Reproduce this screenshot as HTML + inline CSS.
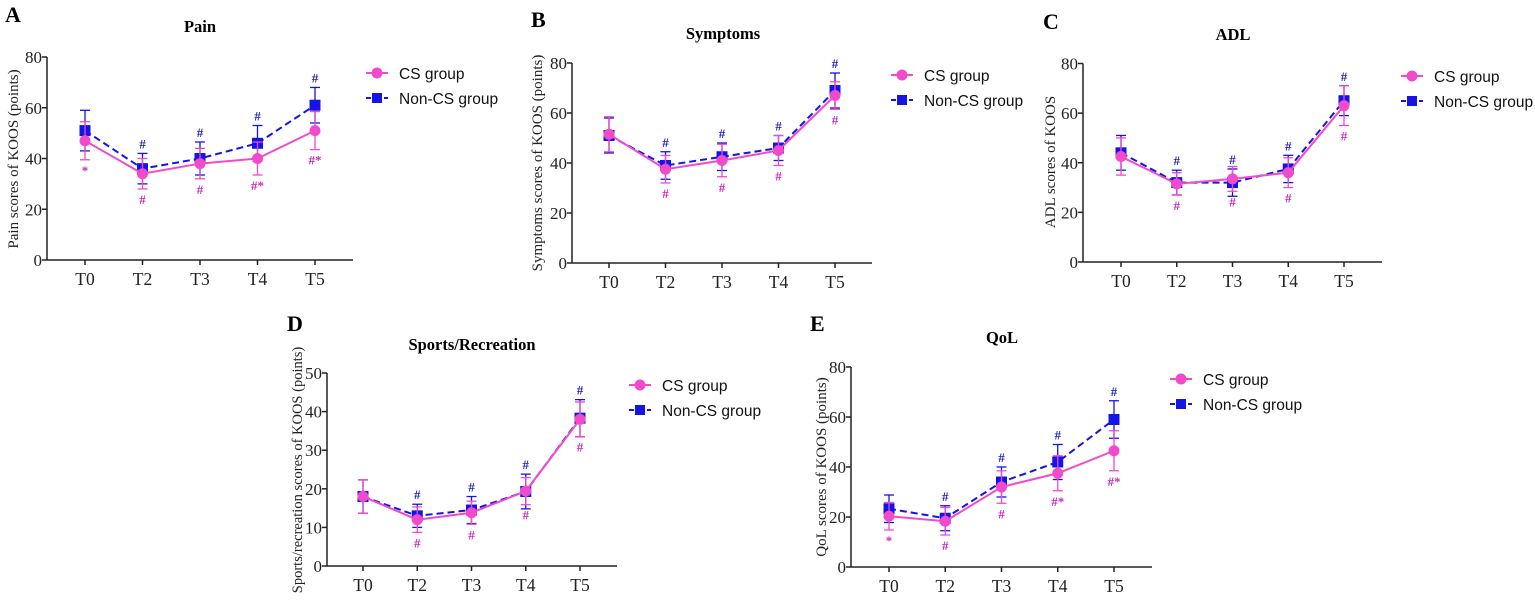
<!DOCTYPE html>
<html><head><meta charset="utf-8"><style>
html,body{margin:0;padding:0;background:#fff;}
svg text{font-family:"Liberation Serif",serif;}
.leg{font-family:"Liberation Sans",sans-serif;font-size:15.5px;}
</style></head><body>
<svg id="chart" width="1535" height="598" viewBox="0 0 1535 598" xmlns="http://www.w3.org/2000/svg"></svg>
<script>
const categories = ["T0","T2","T3","T4","T5"];
// Pain
const painCS = [47,34,38,40,51];
const painCSErr = [7.5,6,6,6.5,7.5];
const painNon = [51,36,40,46,61];
const painNonErr = [8,6,6.5,7,7];
const painCSMarks = ["*","#","#","#*","#*"];
const painNonMarks = ["","#","#","#","#"];
// Symptoms
const symCS = [51.5,37.5,41,45,67];
const symCSErr = [7,5.5,6.5,6,5.5];
const symNon = [51,39,42.5,46,69];
const symNonErr = [7,5.5,5.5,5,7];
const symCSMarks = ["","#","#","#","#"];
const symNonMarks = ["","#","#","#","#"];
// ADL
const adlCS = [42.5,31.5,33.5,36,63];
const adlCSErr = [7.5,4.5,5,6,8];
const adlNon = [44,32,32,37.5,65];
const adlNonErr = [7,5,5.5,5.5,6];
const adlCSMarks = ["","#","#","#","#"];
const adlNonMarks = ["","#","#","#","#"];
// Sports/Recreation
const spCS = [18,12,13.8,19.4,38];
const spCSErr = [4.3,3.3,3,3.5,4.5];
const spNon = [18,13,14.5,19.3,38.3];
const spNonErr = [4.3,3,3.5,4.5,4.8];
const spCSMarks = ["","#","#","#","#"];
const spNonMarks = ["","#","#","#","#"];
// QoL
const qolCS = [20.3,18.3,32,37.5,46.5];
const qolCSErr = [5.5,5.5,6.5,7,8];
const qolNon = [23.3,19.5,34,42,59];
const qolNonErr = [5.5,5,6,7,7.5];
const qolCSMarks = ["*","#","#","#*","#*"];
const qolNonMarks = ["","#","#","#","#"];

const yTicksA = [0,20,40,60,80];
const yTicksD = [0,10,20,30,40,50];

const PINK = "#f14bcb", BLUE = "#1414e6", PINKT = "#c42bc0", BLUET = "#2424b4";
const NS = "http://www.w3.org/2000/svg";
const svg = document.getElementById("chart");
function el(tag, attrs, parent, text){
  const e = document.createElementNS(NS, tag);
  for (const k in attrs) e.setAttribute(k, attrs[k]);
  if (text !== undefined) e.textContent = text;
  (parent||svg).appendChild(e);
  return e;
}

function panel(p){
  const g = el("g", {});
  
  
  const yScale = v => p.y0 - (v / p.ymax) * (p.y0 - p.ytop);
  const xScale = i => p.t0 + i * p.step;
  const L = el("text", {x:p.lx, y:p.ly, "font-size":22, "font-weight":"bold"}, g, p.letter);
  
  
  const T = el("text", {x:p.tx, y:p.ty, "font-size":16.5, "font-weight":"bold", "text-anchor":"middle"}, g, p.title);
  
  
  const ya = el("line", {x1:p.ax, x2:p.ax, y1:p.ytop, y2:p.y0+0.5, stroke:"#222", "stroke-width":1.5}, g);
  
  
  const xa = el("line", {x1:p.ax, x2:p.xend, y1:p.y0, y2:p.y0, stroke:"#222", "stroke-width":1.5}, g);
  
  
  p.ticks.forEach(t => {
    const y = yScale(t);
    el("line", {x1:p.ax-5, x2:p.ax, y1:y, y2:y, stroke:"#222", "stroke-width":1.5}, g);
    const tl = el("text", {x:p.ax-5, y:y+6, "font-size":17, "text-anchor":"end", fill:"#222"}, g, String(t));
    
    
  });
  categories.forEach((c,i) => {
    const x = xScale(i);
    el("line", {x1:x, x2:x, y1:p.y0, y2:p.y0+5, stroke:"#222", "stroke-width":1.5}, g);
    const tl = el("text", {x:x, y:p.y0+25, "font-size":17.5, "text-anchor":"middle", fill:"#222"}, g, c);
    
    
  });
  const yl = el("text", {x:0, y:0, "font-size":p.ylfs, "text-anchor":"middle", fill:"#222",
    transform:`translate(${p.ylx},${p.yly}) rotate(-90)`}, g, p.ylabel);
  
  

  function series(vals, errs, color, dashed, square, marks, markColor, above, name){
    const sg = el("g", {}, g);
    
    
    vals.forEach((v,i) => {
      const x = xScale(i), hi = yScale(v+errs[i]), lo = yScale(v-errs[i]);
      el("line", {x1:x, x2:x, y1:hi, y2:lo, stroke:color, "stroke-width":1.3}, sg);
      el("line", {x1:x-5, x2:x+5, y1:hi, y2:hi, stroke:color, "stroke-width":1.3}, sg);
      el("line", {x1:x-5, x2:x+5, y1:lo, y2:lo, stroke:color, "stroke-width":1.3}, sg);
    });
    const pts = vals.map((v,i) => xScale(i)+","+yScale(v)).join(" ");
    const ln = el("polyline", {points:pts, fill:"none", stroke:color, "stroke-width":2,
      "stroke-dasharray": dashed ? "7,4" : "none"}, sg);
    
    
    vals.forEach((v,i) => {
      const x = xScale(i), y = yScale(v);
      let m;
      if (square) m = el("rect", {x:x-5.5, y:y-5.5, width:11, height:11, fill:color}, sg);
      else m = el("circle", {cx:x, cy:y, r:5.5, fill:color}, sg);
      
      
      if (marks[i]) {
        const ty = above ? yScale(v+errs[i]) - 5 : yScale(v-errs[i]) + 15;
        const a = el("text", {x:x, y:ty, "font-size":13, "font-weight":"bold", "text-anchor":"middle", fill:markColor}, sg, marks[i]);
        
        
      }
    });
  }
  series(p.non, p.nonErr, BLUE, true, true, p.nonMarks, BLUET, true, 'non-cs');
  series(p.cs, p.csErr, PINK, false, false, p.csMarks, PINKT, false, 'cs');

  const lg = el("g", {}, g);
  
  
  const e1 = el("g", {}, lg);
  
  
  el("line", {x1:p.lgx-11, x2:p.lgx+11, y1:p.lgy, y2:p.lgy, stroke:PINK, "stroke-width":2}, e1);
  el("circle", {cx:p.lgx, cy:p.lgy, r:5.5, fill:PINK}, e1);
  el("text", {x:p.lgx+22, y:p.lgy+6, class:"leg", fill:"#111"}, e1, "CS group");
  const e2 = el("g", {}, lg);
  
  
  const y2 = p.lgy + 25;
  el("line", {x1:p.lgx-11, x2:p.lgx+11, y1:y2, y2:y2, stroke:BLUE, "stroke-width":2, "stroke-dasharray":"5,4"}, e2);
  el("rect", {x:p.lgx-5, y:y2-5, width:10, height:10, fill:BLUE}, e2);
  el("text", {x:p.lgx+22, y:y2+6, class:"leg", fill:"#111"}, e2, "Non-CS group");
}

panel({key:"pain", letter:"A", lx:5, ly:22, title:"Pain", tx:200, ty:32, ax:47, y0:260, ytop:57, ymax:80, xend:353, t0:85, step:57.5,
  ticks:yTicksA, ylabel:"Pain scores of KOOS (points)", ylfs:15, ylx:18, yly:159, lgx:377, lgy:73,
  cs:painCS, csErr:painCSErr, non:painNon, nonErr:painNonErr, csMarks:painCSMarks, nonMarks:painNonMarks});
panel({key:"symptoms", letter:"B", lx:531, ly:27, title:"Symptoms", tx:723, ty:39, ax:572, y0:263, ytop:63, ymax:80, xend:872, t0:609, step:56.5,
  ticks:yTicksA, ylabel:"Symptoms scores of KOOS (points)", ylfs:15, ylx:542, yly:163, lgx:902, lgy:75,
  cs:symCS, csErr:symCSErr, non:symNon, nonErr:symNonErr, csMarks:symCSMarks, nonMarks:symNonMarks});
panel({key:"adl", letter:"C", lx:1043, ly:29, title:"ADL", tx:1233, ty:40, ax:1083, y0:262, ytop:63.5, ymax:80, xend:1382, t0:1121, step:55.75,
  ticks:yTicksA, ylabel:"ADL scores of KOOS", ylfs:15, ylx:1055, yly:162, lgx:1412, lgy:76,
  cs:adlCS, csErr:adlCSErr, non:adlNon, nonErr:adlNonErr, csMarks:adlCSMarks, nonMarks:adlNonMarks});
panel({key:"sports", letter:"D", lx:287, ly:331, title:"Sports/Recreation", tx:472, ty:350, ax:327, y0:566, ytop:373, ymax:50, xend:617, t0:363, step:54.25,
  ticks:yTicksD, ylabel:"Sports/recreation scores of KOOS (points)", ylfs:14.5, ylx:302, yly:470, lgx:640, lgy:385,
  cs:spCS, csErr:spCSErr, non:spNon, nonErr:spNonErr, csMarks:spCSMarks, nonMarks:spNonMarks});
panel({key:"qol", letter:"E", lx:810, ly:331, title:"QoL", tx:1002, ty:343, ax:851, y0:567, ytop:367, ymax:80, xend:1152, t0:889, step:56.25,
  ticks:yTicksA, ylabel:"QoL scores of KOOS (points)", ylfs:15, ylx:826, yly:467, lgx:1181, lgy:379,
  cs:qolCS, csErr:qolCSErr, non:qolNon, nonErr:qolNonErr, csMarks:qolCSMarks, nonMarks:qolNonMarks});
</script>
</body></html>
